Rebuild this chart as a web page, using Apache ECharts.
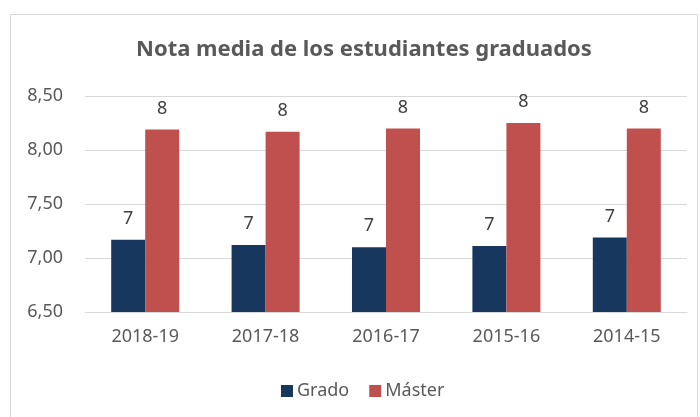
<!DOCTYPE html>
<html>
<head>
<meta charset="utf-8">
<script src="https://cdn.jsdelivr.net/npm/echarts@6/dist/echarts.min.js"></script>
<style>
  html, body { margin: 0; padding: 0; background: #fff; }
  #chart { width: 700px; height: 417px; }
</style>
</head>
<body>
<div id="chart"></div>
<script>
// Academic years shown on the category axis
const cursos = ['2018-19', '2017-18', '2016-17', '2015-16', '2014-15'];
// Average grade of graduates per programme type
const grado = [7.17, 7.12, 7.10, 7.11, 7.19];
const master = [8.19, 8.17, 8.20, 8.25, 8.20];
// Value axis range and step
const yMin = 6.5, yMax = 8.5, yStep = 0.5;

const textColor = '#595959';
const font = 'Noto Sans';

const chart = echarts.init(document.getElementById('chart'), null, { renderer: 'canvas' });

const labelCfg = {
  show: true,
  position: 'top',
  distance: 12,
  color: '#404040',
  fontFamily: font,
  fontSize: 18,
  formatter: p => Math.round(p.value).toString()
};

chart.setOption({
  animation: false,
  backgroundColor: '#fff',
  graphic: [{
    type: 'rect',
    shape: { x: 10.5, y: 14.5, width: 687, height: 430 },
    style: { fill: 'none', stroke: '#D9D9D9', lineWidth: 1 },
    silent: true
  }],
  title: {
    text: 'Nota media de los estudiantes graduados',
    left: 131,
    top: 34,
    textStyle: { color: textColor, fontFamily: font, fontSize: 22, fontWeight: 'bold' }
  },
  legend: {
    top: 377,
    left: 276,
    itemWidth: 12,
    itemHeight: 12,
    itemGap: 20,
    icon: 'rect',
    textStyle: { color: textColor, fontFamily: font, fontSize: 18, padding: [0, 0, 0, -1] },
    data: ['Grado', 'Máster']
  },
  grid: { left: 85, right: 13, top: 96, height: 216 },
  xAxis: {
    type: 'category',
    data: cursos,
    axisTick: { show: false },
    axisLine: { show: true, lineStyle: { color: '#D9D9D9', width: 1 } },
    axisLabel: { color: textColor, fontFamily: font, fontSize: 18, margin: 16 }
  },
  yAxis: {
    type: 'value',
    min: yMin,
    max: yMax,
    interval: yStep,
    axisLine: { show: false },
    axisTick: { show: false },
    splitLine: { lineStyle: { color: '#D9D9D9', width: 1 } },
    axisLabel: {
      color: textColor,
      fontFamily: font,
      fontSize: 18,
      margin: 22,
      formatter: v => v.toFixed(2).replace('.', ',')
    }
  },
  series: [
    {
      name: 'Grado',
      type: 'bar',
      data: grado,
      barWidth: 34,
      barGap: '0%',
      itemStyle: { color: '#17375E' },
      label: labelCfg
    },
    {
      name: 'Máster',
      type: 'bar',
      data: master,
      barWidth: 34,
      barGap: '0%',
      itemStyle: { color: '#C0504D' },
      label: labelCfg
    }
  ]
});
</script>
</body>
</html>
